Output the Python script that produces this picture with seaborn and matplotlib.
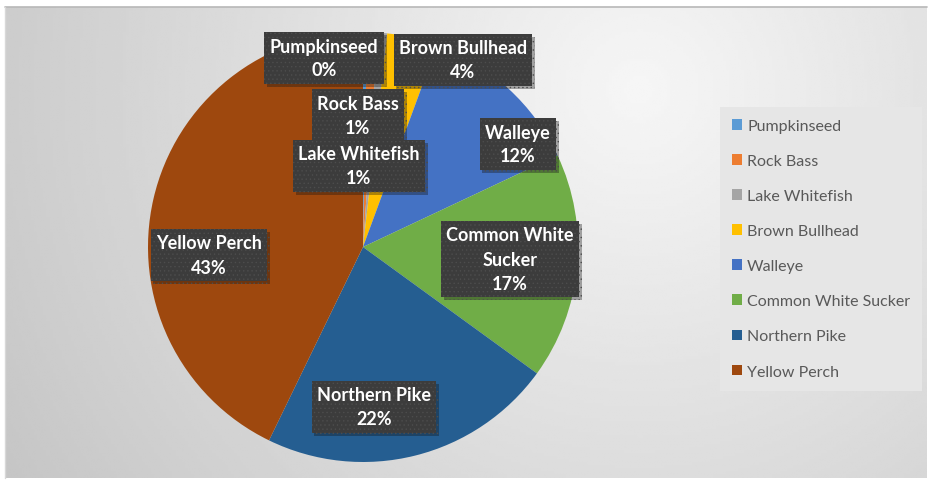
#!/usr/bin/env python
"""
Pie chart of fish species share in the catch, with dark data-label boxes
and a legend on the right, over a soft grey gradient background.
"""

import numpy as np
import matplotlib
matplotlib.use("Agg")
import matplotlib.pyplot as plt
import matplotlib.patheffects as pe
from matplotlib.patches import Patch
import seaborn as sns

# Data (percent of catch)
species = ["Pumpkinseed", "Rock Bass", "Lake Whitefish", "Brown Bullhead",
           "Walleye", "Common White Sucker", "Northern Pike", "Yellow Perch"]
shares = [0.3, 0.8, 0.7, 3.8, 12.4, 17.0, 22.2, 42.8]
share_labels = ["0%", "1%", "1%", "4%", "12%", "17%", "22%", "43%"]
label_names = ["Pumpkinseed", "Rock Bass", "Lake Whitefish", "Brown Bullhead",
               "Walleye", "Common White\nSucker", "Northern Pike", "Yellow Perch"]
colors = ["#5B9BD5", "#ED7D31", "#A5A5A5", "#FFC000",
          "#4472C4", "#70AD47", "#255E91", "#9E480E"]

W, H = 929, 481
sns.set_theme(style="white")
plt.rcParams["font.family"] = ["Lato", "DejaVu Sans"]
plt.rcParams["hatch.linewidth"] = 0.5

fig = plt.figure(figsize=(W / 100, H / 100), dpi=100)
fig.patch.set_facecolor("white")
ax = fig.add_axes([0, 0, 1, 1])

# Pie (pixel coordinates, y measured from bottom)
cx, cy, r = 363, H - 248, 215
wedges, _ = ax.pie(shares, colors=sns.color_palette(colors), startangle=90,
                   counterclock=False, center=(cx, cy), radius=r,
                   wedgeprops=dict(linewidth=0), frame=False)
for w in wedges:
    w.set_zorder(2)

# Background: radial grey gradient inside the chart frame
x0, x1, y0, y1 = 5, 927, 2, H - 8
gx, gy = np.meshgrid(np.linspace(x0, x1, 300), np.linspace(y1, y0, 160))
d = np.hypot(gx - 640, gy - (H - 90))
val = 0.965 - 0.19 * np.clip(d / 740, 0, 1)
ax.imshow(val, cmap="gray", vmin=0, vmax=1, extent=(x0, x1, y0, y1),
          aspect="auto", zorder=0, interpolation="bilinear")
ax.plot([x0, x1], [y1, y1], color="#b8b8b8", lw=1.2, zorder=1)
ax.plot([x0, x0], [y0, y1], color="#d8d8d8", lw=1, zorder=1)

ax.set_xlim(0, W)
ax.set_ylim(0, H)
ax.set_aspect("equal")
ax.axis("off")

# Data labels (box centres in pixels, y from top)
label_pos = [(324, 59), (358, 116), (359, 167), (463, 61),
             (518, 145), (510, 260), (374, 408), (209, 256)]
for name, pct, (px, py) in zip(label_names, share_labels, label_pos):
    t = ax.text(px, H - py, f"{name}\n{pct}", ha="center", va="center",
                multialignment="center", color="white", fontsize=13,
                fontweight="bold", linespacing=1.5, zorder=5,
                bbox=dict(boxstyle="square,pad=0.3", facecolor="#3c3c3c",
                          edgecolor="#4d4d4d", linewidth=0, hatch="...."))
    t.get_bbox_patch().set_path_effects(
        [pe.SimplePatchShadow(offset=(2, -2), alpha=0.35), pe.Normal()])

# Legend
handles = [Patch(facecolor=c, edgecolor="none") for c in colors]
leg = ax.legend(handles, species, loc="upper left",
                bbox_to_anchor=(720 / W, 1 - 108 / H), bbox_transform=fig.transFigure,
                frameon=True, fontsize=11.5, handlelength=0.65, handleheight=0.65,
                handletextpad=0.3, labelspacing=1.32, borderpad=0.75,
                borderaxespad=0)
leg.get_frame().set_facecolor("#e6e6e6")
leg.get_frame().set_edgecolor("none")
leg.get_frame().set_alpha(1)
leg.get_frame().set_boxstyle("square", pad=0)
leg.set_zorder(6)
for txt in leg.get_texts():
    txt.set_color("#595959")

fig.savefig("out.png", dpi=100)
plt.close(fig)
